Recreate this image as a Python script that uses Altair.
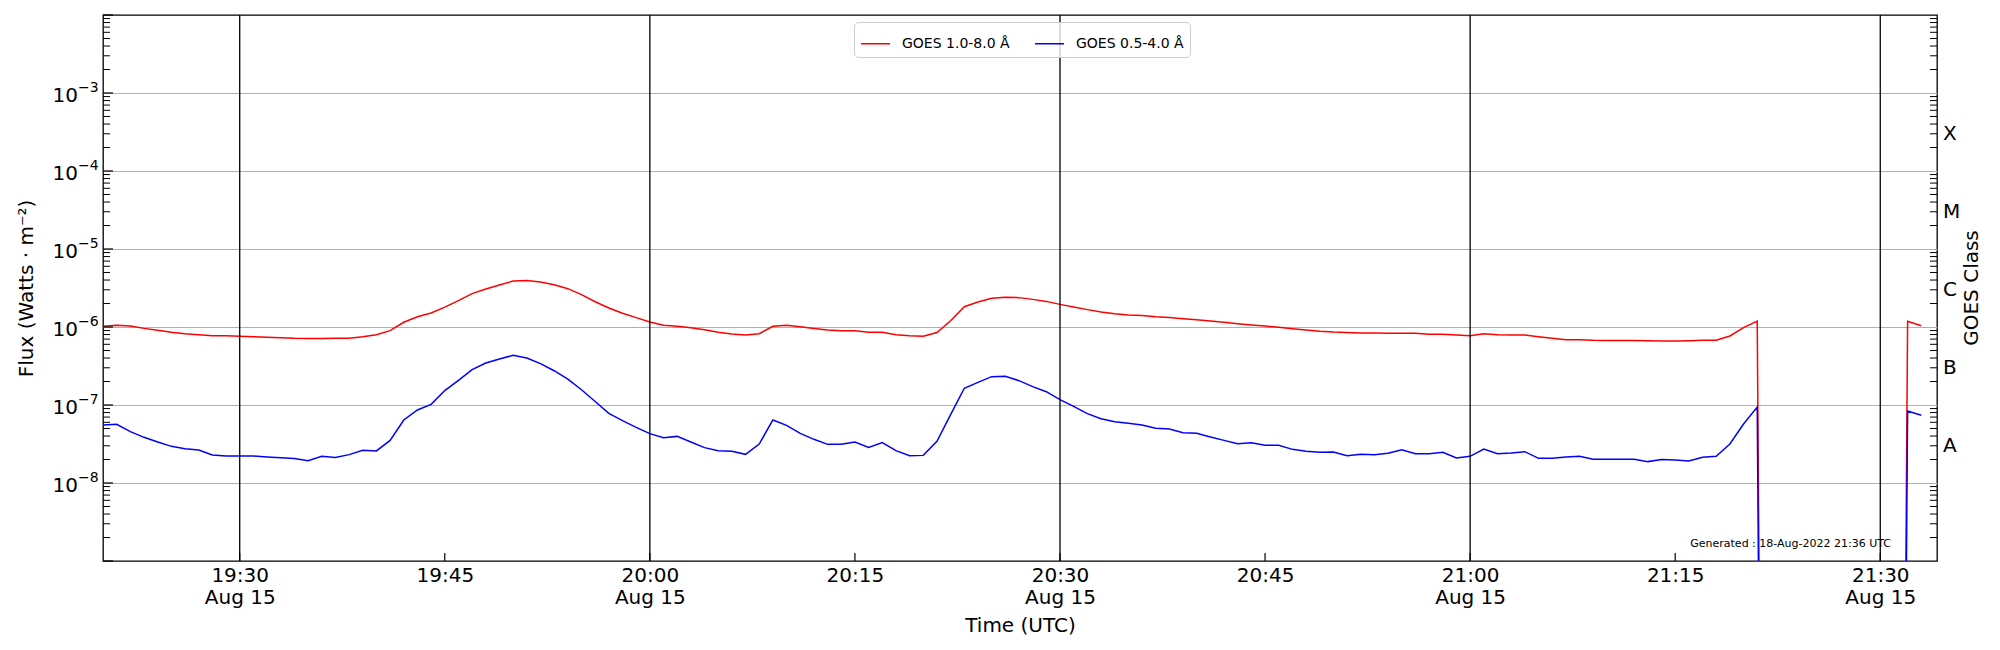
import altair as alt
import pandas as pd

# ---------------- data ----------------
start = pd.Timestamp("2022-08-15 19:20:00", tz="UTC")
times = [(start + pd.Timedelta(minutes=i)).strftime("%Y-%m-%dT%H:%M:%SZ") for i in range(134)]

long_flux = [
    1.02e-6, 1.05e-6, 1.03e-6, 9.6e-7, 9.06e-7, 8.55e-7, 8.2e-7, 7.98e-7, 7.75e-7, 7.7e-7,
    7.6e-7, 7.5e-7, 7.38e-7, 7.3e-7, 7.16e-7, 7.1e-7, 7.1e-7, 7.16e-7, 7.2e-7, 7.5e-7,
    7.98e-7, 8.97e-7, 1.15e-6, 1.35e-6, 1.51e-6, 1.80e-6, 2.18e-6, 2.68e-6, 3.07e-6, 3.45e-6,
    3.89e-6, 3.95e-6, 3.77e-6, 3.49e-6, 3.1e-6, 2.6e-6, 2.11e-6, 1.75e-6, 1.50e-6, 1.32e-6,
    1.16e-6, 1.05e-6, 1.02e-6, 9.8e-7, 9.24e-7, 8.55e-7, 8.12e-7, 7.9e-7, 8.2e-7, 1.02e-6,
    1.05e-6, 1.01e-6, 9.6e-7, 9.15e-7, 8.97e-7, 8.97e-7, 8.55e-7, 8.55e-7, 7.98e-7, 7.7e-7,
    7.6e-7, 8.5e-7, 1.2e-6, 1.82e-6, 2.09e-6, 2.33e-6, 2.4e-6, 2.38e-6, 2.26e-6, 2.13e-6,
    1.95e-6, 1.80e-6, 1.67e-6, 1.56e-6, 1.48e-6, 1.43e-6, 1.40e-6, 1.35e-6, 1.32e-6, 1.28e-6,
    1.24e-6, 1.19e-6, 1.15e-6, 1.1e-6, 1.06e-6, 1.03e-6, 9.9e-7, 9.5e-7, 9.15e-7, 8.8e-7,
    8.6e-7, 8.5e-7, 8.4e-7, 8.4e-7, 8.3e-7, 8.3e-7, 8.3e-7, 8.1e-7, 8.1e-7, 7.9e-7,
    7.75e-7, 8.2e-7, 7.98e-7, 7.9e-7, 7.9e-7, 7.5e-7, 7.16e-7, 6.88e-7, 6.88e-7, 6.75e-7,
    6.7e-7, 6.7e-7, 6.7e-7, 6.65e-7, 6.6e-7, 6.6e-7, 6.65e-7, 6.75e-7, 6.75e-7, 7.68e-7,
    9.8e-7, 1.19e-6, 0, 0, 0, 0, 0, 0, 0, 0,
    0, 0, 1.18e-6, 1.04e-6,
]

short_flux = [
    5.55e-8, 5.65e-8, 4.55e-8, 3.85e-8, 3.36e-8, 2.95e-8, 2.75e-8, 2.65e-8, 2.29e-8, 2.22e-8,
    2.22e-8, 2.22e-8, 2.15e-8, 2.1e-8, 2.06e-8, 1.93e-8, 2.2e-8, 2.12e-8, 2.31e-8, 2.62e-8,
    2.58e-8, 3.52e-8, 6.43e-8, 8.63e-8, 1.02e-7, 1.53e-7, 2.07e-7, 2.84e-7, 3.45e-7, 3.89e-7,
    4.34e-7, 4.01e-7, 3.39e-7, 2.75e-7, 2.15e-7, 1.57e-7, 1.11e-7, 7.82e-8, 6.3e-8, 5.17e-8,
    4.29e-8, 3.81e-8, 3.96e-8, 3.36e-8, 2.84e-8, 2.6e-8, 2.55e-8, 2.33e-8, 3.16e-8, 6.43e-8,
    5.49e-8, 4.33e-8, 3.63e-8, 3.13e-8, 3.13e-8, 3.36e-8, 2.86e-8, 3.3e-8, 2.6e-8, 2.24e-8,
    2.26e-8, 3.42e-8, 7.52e-8, 1.64e-7, 1.95e-7, 2.31e-7, 2.33e-7, 2.05e-7, 1.72e-7, 1.48e-7,
    1.17e-7, 9.6e-8, 7.75e-8, 6.68e-8, 6.11e-8, 5.82e-8, 5.55e-8, 5.02e-8, 4.93e-8, 4.42e-8,
    4.33e-8, 3.89e-8, 3.52e-8, 3.19e-8, 3.29e-8, 3.04e-8, 3.04e-8, 2.7e-8, 2.55e-8, 2.47e-8,
    2.5e-8, 2.24e-8, 2.33e-8, 2.31e-8, 2.4e-8, 2.67e-8, 2.37e-8, 2.37e-8, 2.47e-8, 2.09e-8,
    2.2e-8, 2.73e-8, 2.37e-8, 2.42e-8, 2.52e-8, 2.07e-8, 2.07e-8, 2.15e-8, 2.2e-8, 2.01e-8,
    2.01e-8, 2.01e-8, 2.01e-8, 1.88e-8, 2.0e-8, 1.97e-8, 1.91e-8, 2.14e-8, 2.2e-8, 3.16e-8,
    5.7e-8, 9.4e-8, 0, 0, 0, 0, 0, 0, 0, 0,
    0, 0, 8.37e-8, 7.38e-8,
]

LONG_LABEL = "GOES 1.0-8.0 Å"
SHORT_LABEL = "GOES 0.5-4.0 Å"
series_names = [LONG_LABEL, SHORT_LABEL]
series_colors = ["#ff0000", "#0000ff"]

decades = [1e-3, 1e-4, 1e-5, 1e-6, 1e-7, 1e-8]
decade_exps = ["\u22123", "\u22124", "\u22125", "\u22126", "\u22127", "\u22128"]
class_values = [3e-4, 3e-5, 3e-6, 3e-7, 3e-8]
class_letters = ["X", "M", "C", "B", "A"]

xtick_times = ["19:30", "19:45", "20:00", "20:15", "20:30", "20:45", "21:00", "21:15", "21:30"]
vline_times = ["19:30", "20:00", "20:30", "21:00", "21:30"]
generated_text = "Generated : 18-Aug-2022 21:36 UTC"


def ms(hm):
    return int(pd.Timestamp(f"2022-08-15 {hm}", tz="UTC").value // 10**6)


def iso(hm):
    return f"2022-08-15T{hm}:00Z"


W, H = 1834, 546
FONT = "DejaVu Sans"

xscale = alt.Scale(type="utc", domain=[ms("19:20:00"), ms("21:34:09")], nice=False)
yscale = alt.Scale(type="log", domain=[1e-9, 1e-2], nice=False)

df_long = pd.DataFrame({"time": times, "flux": long_flux, "series": LONG_LABEL})
df_short = pd.DataFrame({"time": times, "flux": short_flux, "series": SHORT_LABEL})

x_axis = alt.Axis(
    values=[ms(t) for t in xtick_times], grid=False, ticks=False, domain=False,
    labelExpr="utcminutes(datum.value) % 30 == 0 ? [utcFormat(datum.value, '%H:%M'), utcFormat(datum.value, '%b %d')] : utcFormat(datum.value, '%H:%M')",
    labelFontSize=20, labelFont=FONT, labelColor="black", labelPadding=4,
    labelBaseline="top", labelLineHeight=22, labelFlush=False, labelOverlap=False,
    title="Time (UTC)", titleFontSize=20, titleFont=FONT, titleFontWeight="normal",
    titleColor="black", titleY=64, titleX=W / 2, titleBaseline="middle", titleAlign="center",
)
y_axis = alt.Axis(
    values=decades, grid=True, gridColor="#b0b0b0", gridWidth=1.2,
    labels=False, ticks=False, domain=False,
    title="Flux (Watts · m⁻²)", titleFontSize=20, titleFont=FONT, titleFontWeight="normal",
    titleColor="black", titleX=-77, titleY=H / 2, titleAngle=270,
    titleBaseline="middle", titleAlign="center",
)
color_scale = alt.Scale(domain=series_names, range=series_colors)
legend = alt.Legend(
    orient="none", legendX=751, legendY=7, direction="horizontal", title=None,
    symbolType="stroke", symbolSize=841, symbolStrokeWidth=1.5,
    labelFontSize=14, labelFont=FONT, labelColor="black", labelOffset=11,
    columnPadding=22, padding=6, fillColor="rgba(255,255,255,0.8)",
    strokeColor="#cccccc", cornerRadius=4, labelLimit=400,
)


def X(field):
    return alt.X(field, scale=xscale, axis=x_axis, title="Time (UTC)")


def Y(field):
    return alt.Y(field, scale=yscale, axis=y_axis, title="Flux (Watts · m⁻²)")


def line_layer(df):
    return alt.Chart(df).transform_calculate(
        plotflux="datum.flux > 0 ? datum.flux : 1e-30"
    ).mark_line(strokeWidth=1.5, clip=True).encode(
        x=X("time:T"),
        y=Y("plotflux:Q"),
        color=alt.Color("series:N", scale=color_scale, legend=legend),
    )


# vertical black lines
vlines = alt.Chart(pd.DataFrame({"t": [iso(t) for t in vline_times]})).mark_rule(
    color="black", strokeWidth=1.3
).encode(x=X("t:T"))

# inward x ticks
xticks = alt.Chart(pd.DataFrame({"t": [iso(t) for t in xtick_times]})).mark_rule(
    color="black", strokeWidth=1.2
).encode(x=X("t:T"), y=alt.value(H), y2=alt.value(H - 8))

major_vals = [10.0 ** n for n in range(-9, -1)]
minor_vals = [k * 10.0 ** n for n in range(-9, -2) for k in range(2, 10)]

left_major = alt.Chart(pd.DataFrame({"v": major_vals})).mark_rule(
    color="black", strokeWidth=1.2
).encode(y=Y("v:Q"), x=alt.value(0), x2=alt.value(10))
left_minor = alt.Chart(pd.DataFrame({"v": minor_vals})).mark_rule(
    color="black", strokeWidth=1.0
).encode(y=Y("v:Q"), x=alt.value(0), x2=alt.value(7))
right_minor = alt.Chart(pd.DataFrame({"v": minor_vals})).mark_rule(
    color="black", strokeWidth=1.0
).encode(y=Y("v:Q"), x=alt.value(W - 7), x2=alt.value(W))

dec_df = pd.DataFrame({"v": decades, "base": ["10"] * len(decades), "exp": decade_exps})
ylab_base = alt.Chart(dec_df).mark_text(
    align="right", baseline="middle", fontSize=20, font=FONT, color="black", dy=3
).encode(y=Y("v:Q"), x=alt.value(-25), text="base:N")
ylab_exp = alt.Chart(dec_df).mark_text(
    align="left", baseline="middle", fontSize=14, font=FONT, color="black", dy=-5
).encode(y=Y("v:Q"), x=alt.value(-25), text="exp:N")

class_lab = alt.Chart(pd.DataFrame({"v": class_values, "c": class_letters})).mark_text(
    align="left", baseline="middle", fontSize=20, font=FONT, color="black"
).encode(y=Y("v:Q"), x=alt.value(W + 6), text="c:N")

class_title = alt.Chart(pd.DataFrame({"t": ["GOES Class"]})).mark_text(
    align="center", baseline="middle", fontSize=20, font=FONT, color="black", angle=270
).encode(x=alt.value(W + 35), y=alt.value(H / 2), text="t:N")

gen = alt.Chart(pd.DataFrame({"t": [generated_text]})).mark_text(
    align="right", baseline="middle", fontSize=11, font=FONT, color="black"
).encode(x=alt.value(1788), y=alt.value(529), text="t:N")

chart = alt.layer(
    line_layer(df_long),
    line_layer(df_short),
    vlines, xticks, left_major, left_minor, right_minor,
    ylab_base, ylab_exp, class_lab, class_title, gen,
).properties(
    width=W, height=H,
    autosize=alt.AutoSizeParams(type="none"),
    padding={"left": 95, "top": 7, "right": 55, "bottom": 81},
).configure_view(stroke="black", strokeWidth=1.3)

chart.save("out.html", embed_options={"renderer": "svg", "actions": False})
